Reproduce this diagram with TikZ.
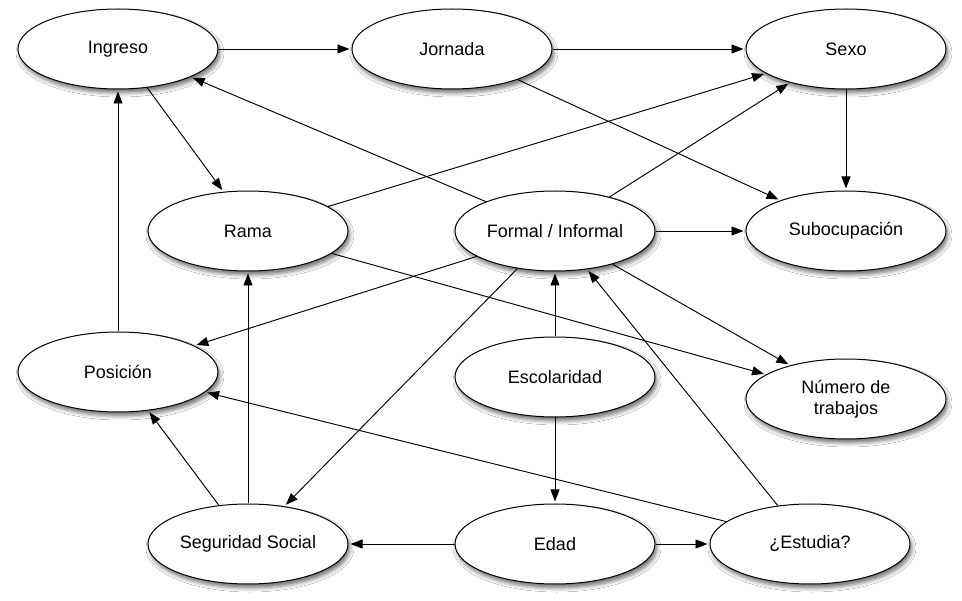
\documentclass[tikz,border=0pt]{standalone}
\usepackage{fontspec}
\setmainfont{Liberation Sans}
\usetikzlibrary{shapes.geometric,arrows.meta,shadows.blur}
\begin{document}
\begin{tikzpicture}[x=1pt,y=-1pt,
  var/.style={ellipse,draw=black,line width=1pt,fill=white,inner sep=0pt,
    minimum width=200pt,minimum height=80pt,align=center,
    font=\fontsize{18}{21}\selectfont,
    blur shadow={shadow xshift=2pt,shadow yshift=-4pt,shadow blur radius=4pt,shadow opacity=55}},
  arr/.style={line width=0.95pt,-{Triangle[length=12pt,width=9pt]},shorten >=2pt},
  ln/.style={line width=0.95pt}]
\useasboundingbox (0,0) rectangle (962,601);
\fill[white] (0,0) rectangle (962,601);
\node[var] (ing) at (118,49) {Ingreso};
\node[var] (jor) at (452,49) {Jornada};
\node[var] (sex) at (846,49) {Sexo};
\node[var] (ram) at (248,231) {Rama};
\node[var] (for) at (555,231) {Formal / Informal};
\node[var] (sub) at (846,231) {Subocupación};
\node[var] (pos) at (118,372) {Posición};
\node[var] (esc) at (555,377) {Escolaridad};
\node[var] (num) at (846,399) {Número de\\trabajos};
\node[var] (eda) at (555,544) {Edad};
\node[var] (est) at (810,544) {¿Estudia?};
\node[var] (seg) at (248,544) {Seguridad Social};

\draw[arr] (ing.east) -- (jor.west);
\draw[arr] (jor.east) -- (sex.west);
\draw[arr] (jor.-25) -- (sub.155);
\draw[arr] (sex.south) -- (sub.north);
\draw[arr] (for.157.5) -- (ing.-21);
\draw[arr] (ing.-53) -- (ram.122);
\draw[arr] (ram.17.6) -- (sex.197.4);
\draw[arr] (for.32.3) -- (sex.211.8);
\draw[arr] (for.east) -- (sub.west);
\draw[arr] (for.198.4) -- (pos.19);
\draw[arr] (ram.-15.9) -- (num.163.8);
\draw[arr] (for.-30.4) -- (num.149.5);
\draw[arr] (esc.north) -- (for.south);
\draw[arr] (esc.south) -- (eda.north);
\draw[arr] (for.-135) -- (seg.46.4);
\draw[arr] (est.130.2) -- (for.-50.2);
\draw[arr] (est.165.5) -- (pos.-13.7);
\draw[arr] (eda.west) -- (seg.east);
\draw[arr] (eda.east) -- (est.west);
\draw[arr] (seg.127.6) -- (pos.-52);
\draw[arr] (seg.north) -- (ram.south);
\draw[arr] (pos.north) -- (ing.south);
\end{tikzpicture}
\end{document}
